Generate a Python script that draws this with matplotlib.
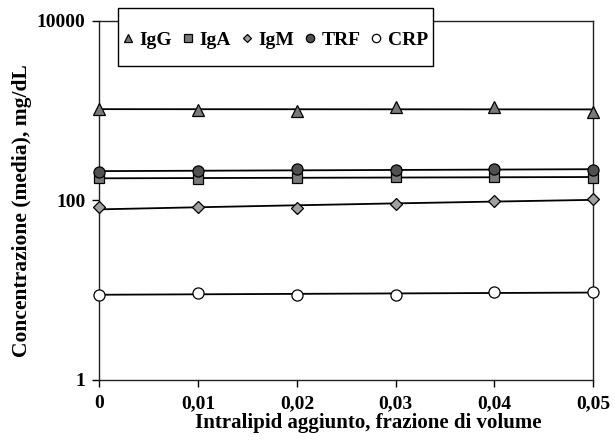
import numpy as np
import matplotlib
matplotlib.use("Agg")
import matplotlib.pyplot as plt
from matplotlib.ticker import FixedLocator, FixedFormatter, NullLocator
from matplotlib.patches import Rectangle

plt.rcParams['font.family'] = ['Liberation Serif', 'DejaVu Serif']
plt.rcParams['font.weight'] = 'bold'

x = [0, 0.01, 0.02, 0.03, 0.04, 0.05]
x_labels = ["0", "0,01", "0,02", "0,03", "0,04", "0,05"]
series_names = ["IgG", "IgA", "IgM", "TRF", "CRP"]
igg = [1050, 1020, 1000, 1090, 1090, 980]
iga = [177, 175, 180, 183, 183, 180]
igm = [84, 84, 82, 91, 99, 104]
trf = [210, 213, 222, 218, 226, 218]
crp = [8.9, 9.3, 8.9, 8.9, 9.5, 9.5]
y_ticks = [1, 100, 10000]
y_tick_labels = ["1", "100", "10000"]

styles = {
    "IgG": dict(marker='^', mfc='#7a7a7a', ms=8),
    "IgA": dict(marker='s', mfc='#7a7a7a', ms=7),
    "IgM": dict(marker='D', mfc='#a0a0a0', ms=6),
    "TRF": dict(marker='o', mfc='#505050', ms=8),
    "CRP": dict(marker='o', mfc='white', ms=8),
}
data = {"IgG": igg, "IgA": iga, "IgM": igm, "TRF": trf, "CRP": crp}

W, H = 615, 447
fig = plt.figure(figsize=(W / 100, H / 100), dpi=100)
ax = fig.add_axes([99.5 / W, 1 - 380 / H, (593 - 99.5) / W, (380 - 21) / H])

xa = np.array(x)
handles = []
for name in series_names:
    ya = np.array(data[name], dtype=float)
    coef = np.polyfit(xa, ya, 1)
    ax.plot(xa, np.polyval(coef, xa), color='black', lw=1.3, zorder=2, clip_on=False)
    st = styles[name]
    h, = ax.plot(xa, ya, linestyle='none', marker=st['marker'], ms=st['ms'],
                 mfc=st['mfc'], mec='black', mew=0.9, zorder=3, clip_on=False, label=name)
    handles.append(h)

ax.set_yscale('log')
ax.set_ylim(1, 10000)
ax.set_xlim(0, 0.05)
ax.yaxis.set_major_locator(FixedLocator(y_ticks))
ax.yaxis.set_major_formatter(FixedFormatter(y_tick_labels))
ax.yaxis.set_minor_locator(NullLocator())
ax.set_xticks(x)
ax.set_xticklabels(x_labels)
ax.tick_params(axis='both', direction='out', length=5, width=1, labelsize=14)
ax.tick_params(axis='x', pad=6)
ax.tick_params(axis='y', pad=5)
for sp in ax.spines.values():
    sp.set_linewidth(1.0)
    sp.set_color('#222222')

fig.text(368 / W, 1 - 428 / H, "Intralipid aggiunto, frazione di volume",
         fontsize=15, fontweight='bold', ha='center', va='baseline')
fig.text(22 / W, 1 - 211 / H, "Concentrazione (media), mg/dL",
         fontsize=15.5, fontweight='bold', ha='center', va='center', rotation=90)

# legend box
rect = Rectangle((118 / W, 1 - 66 / H), (433 - 118) / W, (66 - 8) / H,
                 transform=fig.transFigure, facecolor='white', edgecolor='black',
                 lw=1.0, zorder=9)
fig.add_artist(rect)
leg = fig.legend(handles=handles, labels=series_names, ncol=5, loc='center',
                 bbox_to_anchor=(275.5 / W, 1 - 40 / H), frameon=False,
                 fontsize=14, markerscale=0.75,
                 handlelength=0.5, handletextpad=0.35, columnspacing=0.55,
                 borderpad=0, borderaxespad=0)
leg.set_zorder(10)

fig.savefig("out.png", dpi=100)
